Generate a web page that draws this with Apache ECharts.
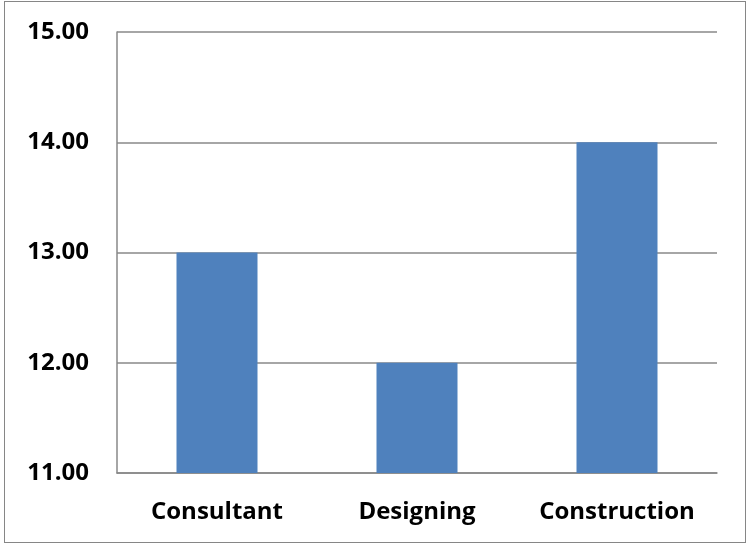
<!DOCTYPE html>
<html>
<head>
<meta charset="utf-8">
<script src="https://cdn.jsdelivr.net/npm/echarts@6/dist/echarts.min.js"></script>
<style>
  html, body { margin: 0; padding: 0; background: #fff; }
  #frame { position: absolute; left: 4px; top: 1px; width: 742px; height: 542px; border: 1px solid #868686; box-sizing: border-box; }
  #chart { position: absolute; left: 0; top: 0; width: 747px; height: 544px; }
</style>
</head>
<body>
<div id="frame"></div>
<div id="chart"></div>
<script>
const categories = ['Consultant', 'Designing', 'Construction'];
const values = [13, 12, 14];
const yMin = 11, yMax = 15, yStep = 1;

const labelFont = { fontFamily: 'Open Sans', fontWeight: 'bold', fontSize: 24, color: '#000' };

const chart = echarts.init(document.getElementById('chart'), null, { renderer: 'canvas' });
chart.setOption({
  animation: false,
  grid: { left: 117, right: 30, top: 32, bottom: 71 },
  xAxis: {
    type: 'category',
    data: categories,
    axisLine: { show: true, lineStyle: { color: '#888', width: 1.5 } },
    axisTick: { show: false },
    axisLabel: Object.assign({ margin: 27, interval: 0, hideOverlap: false }, labelFont)
  },
  yAxis: {
    type: 'value',
    min: yMin, max: yMax, interval: yStep,
    axisLine: { show: true, lineStyle: { color: '#888', width: 1.5 } },
    axisTick: { show: false },
    splitLine: { lineStyle: { color: '#888', width: 1.5 } },
    axisLabel: Object.assign({ margin: 28, formatter: v => v.toFixed(2) }, labelFont)
  },
  series: [{
    type: 'bar',
    data: values,
    barWidth: '40.5%',
    itemStyle: { color: '#4F81BD' }
  }]
});
</script>
</body>
</html>
